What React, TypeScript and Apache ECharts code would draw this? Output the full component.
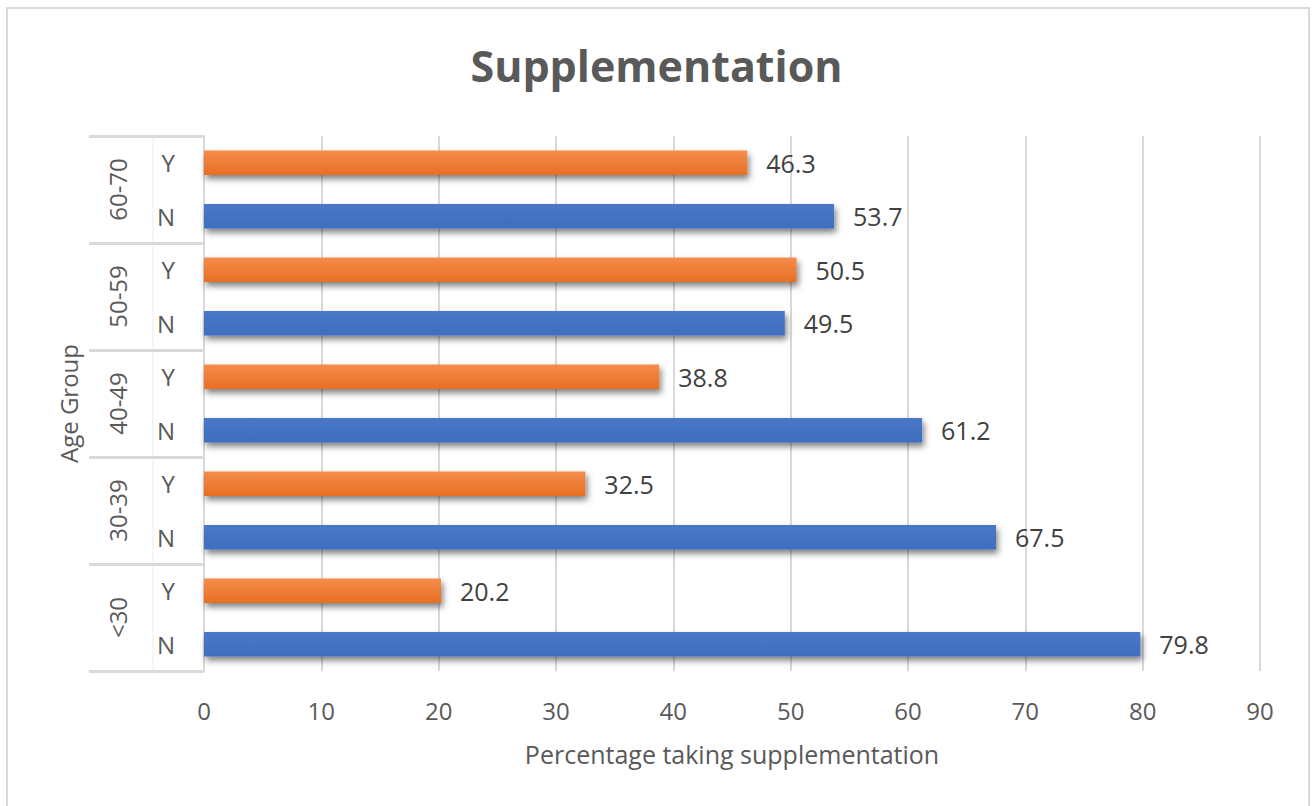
import React, { useEffect, useRef } from "react";
import * as echarts from "echarts";

const groups = ["<30", "30-39", "40-49", "50-59", "60-70"];
const answers = ["N", "Y"];
const valuesN = [79.8, 67.5, 61.2, 49.5, 53.7];
const valuesY = [20.2, 32.5, 38.8, 50.5, 46.3];
const xTicks = [0, 10, 20, 30, 40, 50, 60, 70, 80, 90];

const FONT = "Open Sans";

export default function App() {
  const ref = useRef<HTMLDivElement>(null);
  useEffect(() => {
    if (!ref.current) return;
    const chart = echarts.init(ref.current, null, { renderer: "svg" });
    const cats: string[] = [];
    const data: any[] = [];
    groups.forEach((g, i) => {
      answers.forEach((a) => {
        cats.push(a);
        const v = a === "N" ? valuesN[i] : valuesY[i];
        const color =
          a === "N"
            ? new echarts.graphic.LinearGradient(0, 0, 0, 1, [
                { offset: 0, color: "#4A78C9" },
                { offset: 1, color: "#3F6DBF" },
              ])
            : new echarts.graphic.LinearGradient(0, 0, 0, 1, [
                { offset: 0, color: "#F48C4C" },
                { offset: 1, color: "#E86F22" },
              ]);
        data.push({ value: v, itemStyle: { color } });
      });
    });
    chart.setOption({
      animation: false,
      backgroundColor: "#ffffff",
      title: {
        text: "Supplementation",
        left: "center",
        top: 39,
        textStyle: { fontFamily: FONT, fontSize: 43, fontWeight: "bold", color: "#595959" },
      },
      graphic: [
        {
          type: "rect",
          shape: { x: 7, y: 8, width: 1302, height: 810 },
          style: { fill: "none", stroke: "#d9d9d9", lineWidth: 2 },
          silent: true,
        },
      ],
      grid: { left: 204, right: 53, top: 136, bottom: 135 },
      xAxis: {
        type: "value",
        min: xTicks[0],
        max: xTicks[xTicks.length - 1],
        interval: 10,
        name: "Percentage taking supplementation",
        nameLocation: "middle",
        nameGap: 70,
        nameTextStyle: { fontFamily: FONT, fontSize: 25, color: "#595959" },
        axisLine: { show: false },
        axisTick: { show: false },
        axisLabel: { fontFamily: FONT, fontSize: 24, color: "#595959", margin: 27 },
        splitLine: { show: true, lineStyle: { color: "#d9d9d9", width: 2 } },
      },
      yAxis: [
        {
          type: "category",
          data: cats,
          position: "left",
          axisLine: { show: true, lineStyle: { color: "#d9d9d9", width: 2 } },
          axisTick: { show: false },
          axisLabel: { fontFamily: FONT, fontSize: 24, color: "#595959", margin: 29 },
          name: "Age Group",
          nameLocation: "middle",
          nameGap: 124,
          nameRotate: 90,
          nameTextStyle: { fontFamily: FONT, fontSize: 24, color: "#595959" },
        },
        {
          type: "category",
          data: groups,
          position: "left",
          offset: 0,
          axisLine: { show: false },
          axisTick: { show: true, length: 115, lineStyle: { color: "#d9d9d9", width: 3 } },
          axisLabel: { show: false },
        },
        {
          type: "category",
          data: groups,
          position: "left",
          offset: 51,
          axisLine: { show: true, lineStyle: { color: "#f2f2f2", width: 1.5 } },
          axisTick: { show: false },
          axisLabel: { fontFamily: FONT, fontSize: 24, color: "#595959", rotate: 90, margin: 24 },
        },
      ],
      series: [
        {
          type: "bar",
          yAxisIndex: 0,
          data,
          barWidth: "46%",
          itemStyle: {
            shadowColor: "rgba(0,0,0,0.5)",
            shadowBlur: 6,
            shadowOffsetX: 2,
            shadowOffsetY: 4,
          },
          label: {
            show: true,
            position: "right",
            distance: 19,
            fontFamily: FONT,
            fontSize: 25,
            color: "#404040",
          },
        },
      ],
    });
    return () => chart.dispose();
  }, []);
  return (
    <div
      ref={ref}
      style={{ position: "fixed", left: 0, top: 0, width: 1313, height: 806 }}
    />
  );
}
